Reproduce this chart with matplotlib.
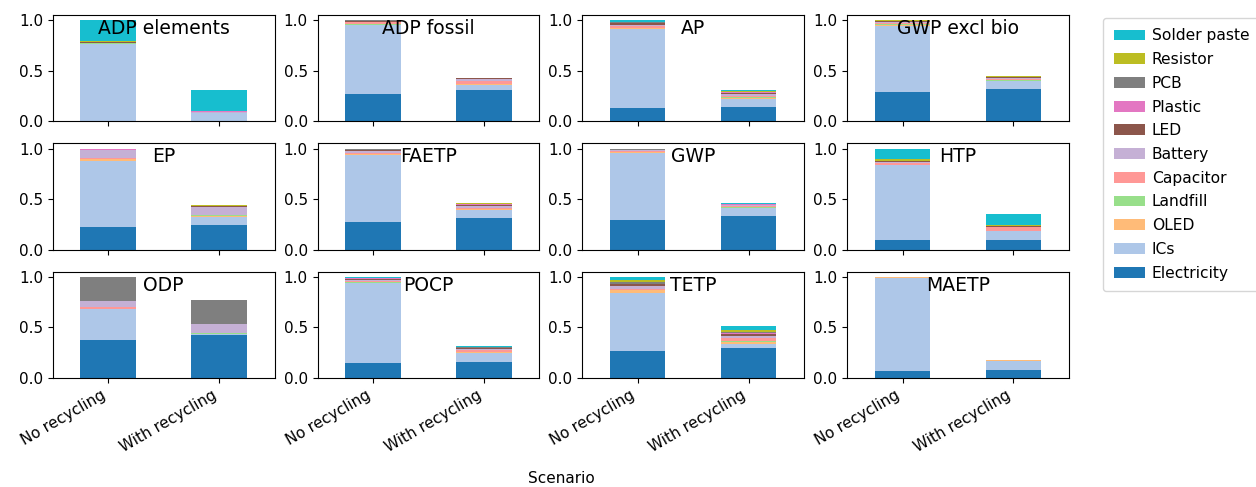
import matplotlib
matplotlib.use("Agg")
import matplotlib.pyplot as plt
import numpy as np

categories = ["ADP elements", "ADP fossil", "AP", "GWP excl bio", "EP", "FAETP",
              "GWP", "HTP", "ODP", "POCP", "TETP", "MAETP"]
scenarios = ["No recycling", "With recycling"]
components = ["Electricity", "ICs", "OLED", "Landfill", "Capacitor", "Battery",
              "LED", "Plastic", "PCB", "Resistor", "Solder paste"]
colors = ["#1f77b4", "#aec7e8", "#ffbb78", "#98df8a", "#ff9896", "#c5b0d5",
          "#8c564b", "#e377c2", "#7f7f7f", "#bcbd22", "#17becf"]

# each entry: [No recycling, With recycling] per category (same order as categories)
electricity = [[0.005, 0.005], [0.272, 0.305], [0.128, 0.144], [0.289, 0.322],
               [0.223, 0.246], [0.272, 0.309], [0.296, 0.336], [0.090, 0.096],
               [0.374, 0.424], [0.143, 0.159], [0.266, 0.299], [0.066, 0.076]]
ics = [[0.760, 0.072], [0.678, 0.057], [0.788, 0.080], [0.658, 0.074],
       [0.654, 0.076], [0.662, 0.080], [0.660, 0.076], [0.744, 0.084],
       [0.306, 0.013], [0.794, 0.090], [0.578, 0.040], [0.924, 0.094]]
oled = [[0.003, 0.002], [0.005, 0.005], [0.005, 0.005], [0.008, 0.005],
        [0.017, 0.010], [0.008, 0.008], [0.005, 0.004], [0.004, 0.004],
        [0.003, 0.002], [0.006, 0.006], [0.023, 0.020], [0.008, 0.008]]
landfill = [[0.001, 0.001], [0.002, 0.002], [0.006, 0.006], [0.003, 0.003],
            [0.005, 0.005], [0.006, 0.006], [0.002, 0.002], [0.002, 0.002],
            [0.001, 0.001], [0.005, 0.005], [0.005, 0.005], [0.001, 0.001]]
capacitor = [[0.004, 0.004], [0.020, 0.030], [0.018, 0.018], [0.012, 0.012],
             [0.005, 0.005], [0.012, 0.012], [0.010, 0.010], [0.020, 0.033],
             [0.020, 0.005], [0.015, 0.015], [0.010, 0.033], [0.001, 0.001]]
battery = [[0.003, 0.003], [0.008, 0.018], [0.010, 0.012], [0.012, 0.012],
           [0.080, 0.075], [0.012, 0.015], [0.010, 0.012], [0.004, 0.004],
           [0.060, 0.086], [0.010, 0.015], [0.025, 0.020], [0.0005, 0.0005]]
led = [[0.008, 0.008], [0.008, 0.008], [0.015, 0.015], [0.008, 0.008],
       [0.005, 0.012], [0.012, 0.015], [0.005, 0.005], [0.008, 0.008],
       [0.001, 0.001], [0.008, 0.008], [0.020, 0.020], [0.0, 0.0]]
plastic = [[0.002, 0.002], [0.002, 0.002], [0.004, 0.004], [0.002, 0.002],
           [0.002, 0.002], [0.003, 0.003], [0.002, 0.002], [0.001, 0.001],
           [0.001, 0.001], [0.003, 0.003], [0.004, 0.004], [0.0, 0.0]]
pcb = [[0.002, 0.002], [0.002, 0.002], [0.005, 0.005], [0.004, 0.004],
       [0.004, 0.004], [0.004, 0.004], [0.003, 0.003], [0.002, 0.002],
       [0.232, 0.235], [0.003, 0.003], [0.018, 0.018], [0.0, 0.0]]
resistor = [[0.002, 0.002], [0.002, 0.002], [0.006, 0.006], [0.002, 0.002],
            [0.002, 0.002], [0.004, 0.004], [0.002, 0.002], [0.020, 0.013],
            [0.001, 0.003], [0.003, 0.003], [0.016, 0.016], [0.0, 0.0]]
solder_paste = [[0.210, 0.205], [0.001, 0.001], [0.015, 0.015], [0.002, 0.002],
                [0.003, 0.003], [0.005, 0.005], [0.005, 0.004], [0.105, 0.108],
                [0.0, 0.0], [0.010, 0.010], [0.035, 0.040], [0.0, 0.0]]

series = [electricity, ics, oled, landfill, capacitor, battery, led, plastic,
          pcb, resistor, solder_paste]

plt.rcParams["font.family"] = ["DejaVu Sans"]
fig, axes = plt.subplots(3, 4, figsize=(12.56, 4.87), dpi=100, sharex=True)
fig.subplots_adjust(left=0.042, right=0.851, top=0.969, bottom=0.224,
                    wspace=0.194, hspace=0.21)

x = np.arange(len(scenarios))
for i, (ax, cat) in enumerate(zip(axes.flat, categories)):
    bottom = np.zeros(len(scenarios))
    for comp, col, data in zip(components, colors, series):
        vals = np.array(data[i])
        ax.bar(x, vals, width=0.5, bottom=bottom, color=col, label=comp)
        bottom += vals
    ax.set_xlim(-0.5, 1.5)
    ax.set_ylim(0, 1.05)
    ax.set_yticks([0, 0.5, 1.0])
    ax.set_xticks(x)
    ax.set_xticklabels(scenarios, rotation=30, ha="right")
    ax.tick_params(labelsize=11)
    ax.text(0.5, 0.965, cat, transform=ax.transAxes, ha="center", va="top",
            fontsize=13.5)

fig.text(0.447, 0.003, "Scenario", ha="center", va="bottom", fontsize=11)

handles, labels = axes.flat[0].get_legend_handles_labels()
fig.legend(handles[::-1], labels[::-1], loc="upper left",
           bbox_to_anchor=(0.878, 0.964), borderaxespad=0,
           handletextpad=0.45, labelspacing=0.56, borderpad=0.7,
           fontsize=11.2)

fig.savefig("out.png", dpi=100)
